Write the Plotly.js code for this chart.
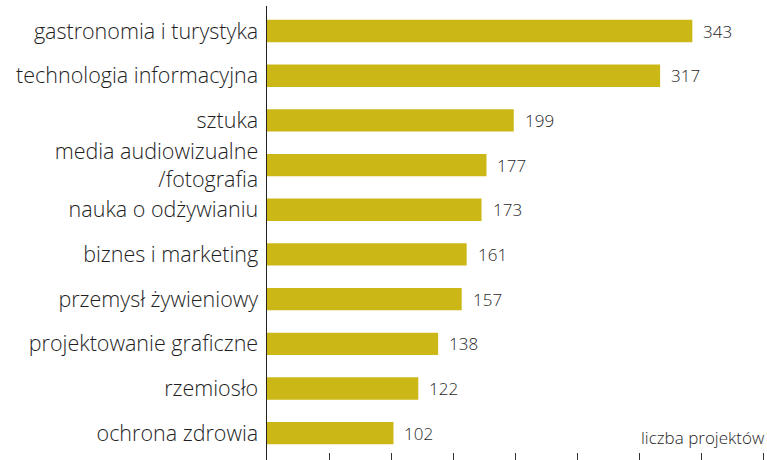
<!DOCTYPE html>
<html>
<head>
<meta charset="utf-8">
<script src="https://cdn.plot.ly/plotly-3.0.1.min.js"></script>
<style>html,body{margin:0;padding:0;background:#fff;}#chart{width:767px;height:460px;}</style>
</head>
<body>
<div id="chart"></div>
<script>
const categories = [
  "gastronomia i turystyka",
  "technologia informacyjna",
  "sztuka",
  "media audiowizualne<br>/fotografia",
  "nauka o odżywianiu",
  "biznes i marketing",
  "przemysł żywieniowy",
  "projektowanie graficzne",
  "rzemiosło",
  "ochrona zdrowia"
];
const values = [343, 317, 199, 177, 173, 161, 157, 138, 122, 102];
const axisTitle = "liczba projektów";

const FONT = "'Open Sans', sans-serif";
const TEXT = "#1e1e1e";

const trace = {
  type: "bar",
  orientation: "h",
  x: values,
  y: categories,
  width: 0.5,
  marker: {color: "#CBB817", line: {width: 0}},
  hoverinfo: "none"
};

const annotations = values.map((v, i) => ({
  x: v, y: categories[i], xref: "x", yref: "y",
  text: String(v), showarrow: false,
  xanchor: "left", yanchor: "middle", xshift: 9,
  font: {family: FONT, size: 17, weight: 300, color: TEXT}
}));
annotations.push({
  x: 1, y: 0.05, xref: "paper", yref: "paper",
  text: axisTitle, showarrow: false,
  xanchor: "right", yanchor: "middle", xshift: 0,
  font: {family: FONT, size: 17, weight: 300, color: TEXT}
});

const layout = {
  width: 767, height: 460,
  margin: {l: 267, r: 0, t: 6, b: 0, pad: 0},
  paper_bgcolor: "#fff", plot_bgcolor: "#fff",
  showlegend: false,
  bargap: 0.5,
  xaxis: {
    range: [0, 403.2], dtick: 50, tick0: 0,
    ticks: "inside", ticklen: 7, tickwidth: 1, tickcolor: "#333",
    showticklabels: false, showline: false, zeroline: false, showgrid: false
  },
  yaxis: {
    type: "category",
    range: [9.6, -0.56],
    showline: true, linecolor: "#222", linewidth: 1.5,
    ticks: "", showgrid: false, zeroline: false,
    ticklabelstandoff: 3,
    tickfont: {family: FONT, size: 21.5, weight: 300, color: TEXT}
  },
  annotations: annotations
};

Plotly.newPlot("chart", [trace], layout, {displayModeBar: false, staticPlot: true});
</script>
</body>
</html>
